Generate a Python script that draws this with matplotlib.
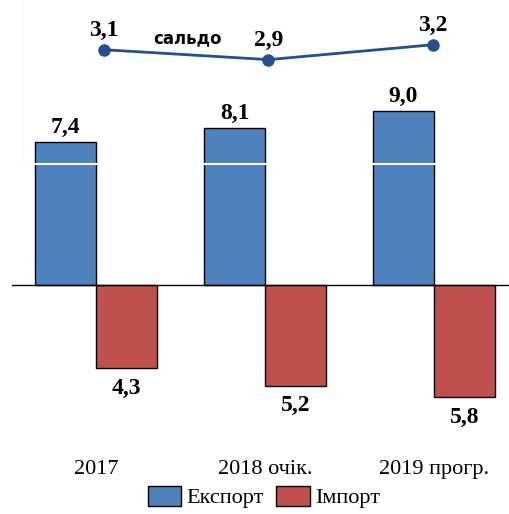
import numpy as np
import matplotlib.pyplot as plt

# data
years = ['2017', '2018 очік.', '2019 прогр.']
export_vals = [7.4, 8.1, 9.0]
import_vals = [4.3, 5.2, 5.8]
saldo_vals = [3.1, 2.9, 3.2]

W, H = 509, 514
fig = plt.figure(figsize=(W / 100, H / 100), dpi=100)
plt.rcParams['font.family'] = 'Liberation Serif'


def px_box(x0, y0, x1, y1):
    # pixel box (top-left origin) -> figure fraction rect
    return [x0 / W, 1 - y1 / H, (x1 - x0) / W, (y1 - y0) / H]


# bar chart
ax = fig.add_axes(px_box(12, 90, 509, 420))
x = np.arange(len(years))
bw = 0.36
ax.bar(x - bw / 2, export_vals, bw, color='#4F81BD', edgecolor='black', lw=1, label='Експорт')
ax.bar(x + bw / 2, [-v for v in import_vals], bw, color='#C0504D', edgecolor='black', lw=1, label='Імпорт')
ax.axhline(0, color='black', lw=1)
ax.set_xlim(-0.497, 2.444)
ax.set_ylim(-6.98, 10.08)
for s in ax.spines.values():
    s.set_visible(False)
ax.set_yticks([])
ax.set_xticks([])
for i in range(len(years)):
    ax.annotate(f'{export_vals[i]:.1f}'.replace('.', ','), (x[i] - bw / 2, export_vals[i]),
                xytext=(0, 3), textcoords='offset points', ha='center', va='bottom',
                fontsize=17, fontweight='bold')
    ax.annotate(f'{import_vals[i]:.1f}'.replace('.', ','), (x[i] + bw / 2, -import_vals[i]),
                xytext=(0, -7), textcoords='offset points', ha='center', va='top',
                fontsize=17, fontweight='bold')
    ax.text(x[i], -9.55, years[i], transform=ax.transData, ha='center', va='center',
            fontsize=16, clip_on=False)

# saldo line on its own axes above
ax2 = fig.add_axes(px_box(22, 0, 509, 164))
ax2.patch.set_alpha(0)
ax2.plot(np.arange(len(years)), saldo_vals, color='#24508F', lw=2, marker='o', ms=8)
ax2.set_xlim(-0.498, 2.462)
ax2.set_ylim(0.8, 4.1)
ax2.set_xticks([])
ax2.set_yticks([])
ax2.spines['top'].set_visible(False)
ax2.spines['right'].set_visible(False)
ax2.spines['left'].set_color('#f7f7f7')
ax2.spines['bottom'].set_color('white')
ax2.spines['bottom'].set_linewidth(1.5)
for i, v in enumerate(saldo_vals):
    ax2.annotate(f'{v:.1f}'.replace('.', ','), (i, v), xytext=(0, 6), textcoords='offset points',
                 ha='center', va='bottom', fontsize=17, fontweight='bold')
ax2.text(0.51, 3.33, 'сальдо', ha='center', va='center', fontsize=12, fontweight='bold',
         family='DejaVu Sans')

fig.legend(loc='center', bbox_to_anchor=(264 / W, 1 - 497 / H), ncol=2, frameon=False,
           fontsize=16, handlelength=1.5, handleheight=1.0, handletextpad=0.25, columnspacing=0.55)

fig.savefig('out.png', dpi=100)
